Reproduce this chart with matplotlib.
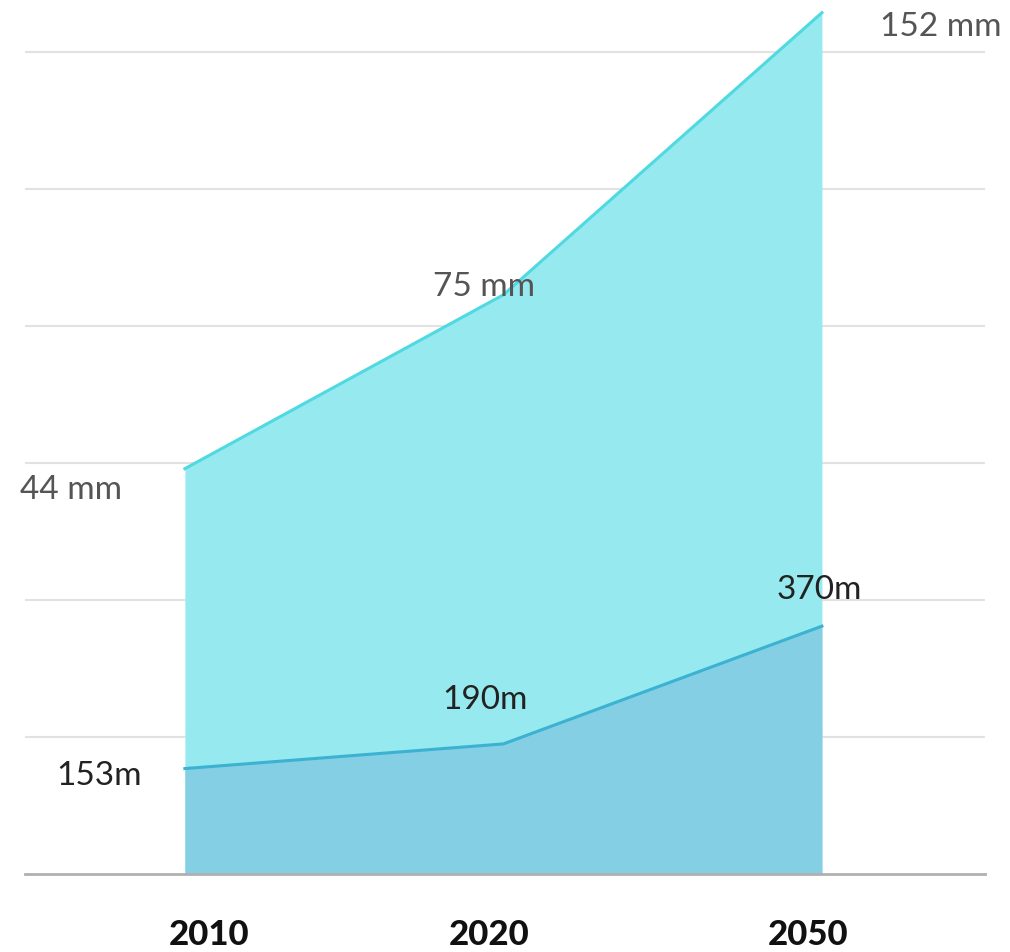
import matplotlib.pyplot as plt
import matplotlib as mpl

mpl.rcParams['font.family'] = ['Lato', 'DejaVu Sans']

# Данные
years = ['2010', '2020', '2050']
rise_mm = [44, 75, 152]          # подписи верхней области
rise_mm_height = [2.96, 4.23, 6.29]   # высота верхней области (в делениях сетки)
meters = [153, 190, 370]         # подписи нижней области
meters_height = [0.77, 0.95, 1.81]    # высота нижней области (в делениях сетки)

x = list(range(len(years)))

fig = plt.figure(figsize=(10.1, 9.53), dpi=100)
ax = fig.add_axes([25/1010, 78/953, 960/1010, 875/953])

ax.set_xlim(-0.502, 2.512)
ax.set_ylim(0, 6.39)

# Сетка
for g in range(1, 7):
    ax.axhline(g, color='#e2e2e2', linewidth=1.5, zorder=0)

# Области
ax.fill_between(x, 0, rise_mm_height, color='#96e9ee', linewidth=0, zorder=1)
ax.plot(x, rise_mm_height, color='#4fd9e0', linewidth=2.2, zorder=2)
ax.fill_between(x, 0, meters_height, color='#84cfe3', linewidth=0, zorder=3)
ax.plot(x, meters_height, color='#3bb2d2', linewidth=2.2, zorder=4)

ax.axhline(0, color='#b0b0b0', linewidth=2, zorder=5, clip_on=False)

# Подписи (смещения в пикселях)
mm_offsets = [(-114, -20), (-19, 9), (119, -13)]
for xi, h, v, off in zip(x, rise_mm_height, rise_mm, mm_offsets):
    ax.annotate(f'{v} mm', (xi, h), xytext=off, textcoords='offset pixels',
                ha='center', va='center', fontsize=24, color='#555555',
                annotation_clip=False)

m_offsets = [(-86, -6), (-18, 45), (-3, 37)]
for xi, h, v, off in zip(x, meters_height, meters, m_offsets):
    ax.annotate(f'{v}m', (xi, h), xytext=off, textcoords='offset pixels',
                ha='center', va='center', fontsize=24, color='#222222',
                annotation_clip=False)

year_offsets = [24, -14, -14]
for xi, yr, off in zip(x, years, year_offsets):
    ax.annotate(yr, (xi, 0), xytext=(off, -60), textcoords='offset pixels',
                ha='center', va='center', fontsize=25, fontweight='black',
                color='#111111', annotation_clip=False)

ax.set_xticks([])
ax.set_yticks([])
for s in ax.spines.values():
    s.set_visible(False)

plt.savefig('out.png', dpi=100)
